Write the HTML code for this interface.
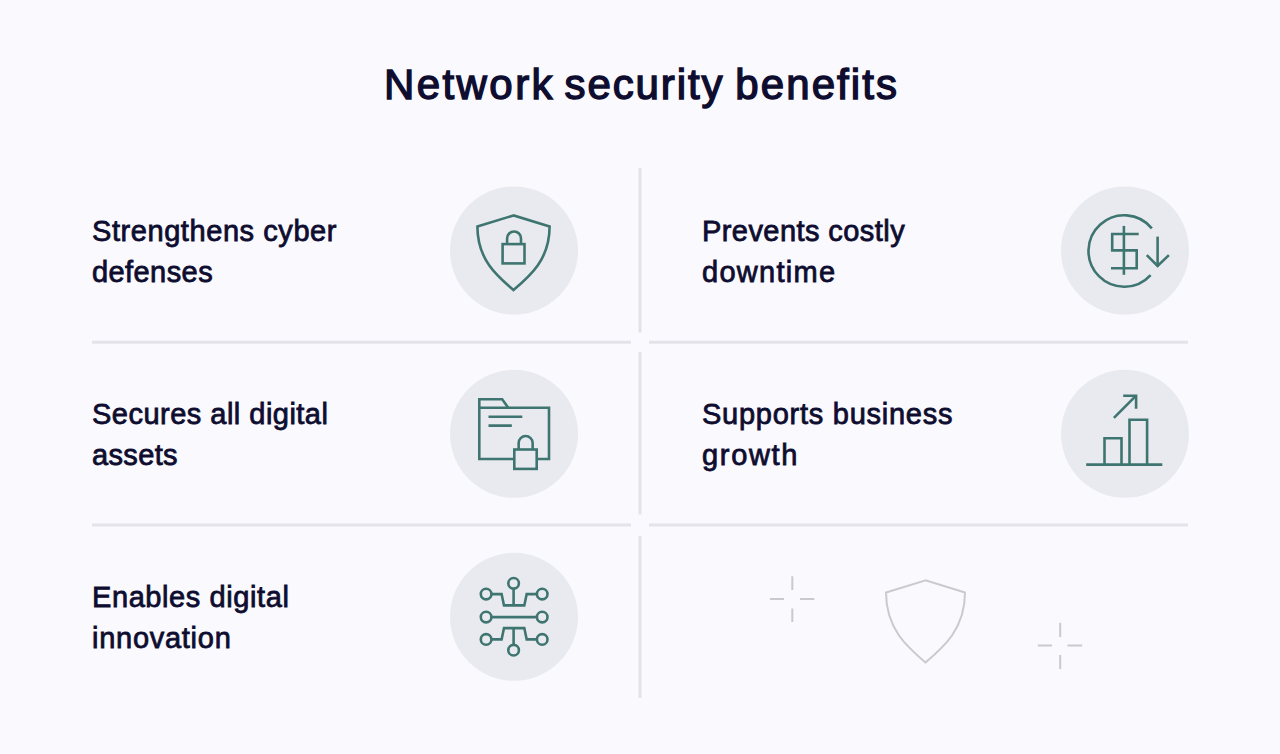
<!DOCTYPE html>
<html><head><meta charset="utf-8">
<style>
html,body{margin:0;padding:0;}
body{width:1280px;height:754px;background:#f9f9fe;position:relative;overflow:hidden;font-family:"Liberation Sans",sans-serif;color:#0e0d2f;}
.title{position:absolute;top:60.3px;font-size:42px;line-height:50px;font-weight:400;-webkit-text-stroke:1.4px #0e0d2f;letter-spacing:1.85px;white-space:nowrap;}
.t{position:absolute;font-size:29px;line-height:41px;font-weight:400;-webkit-text-stroke:0.8px #0e0d2f;letter-spacing:0.65px;white-space:nowrap;}
svg{position:absolute;left:0;top:0;}
</style></head><body>
<svg width="1280" height="754" viewBox="0 0 1280 754">
 <g stroke="#e3e3e9" stroke-width="3" fill="none">
  <line x1="640" y1="168" x2="640" y2="332.5"/>
  <line x1="640" y1="352" x2="640" y2="514.5"/>
  <line x1="640" y1="536" x2="640" y2="698"/>
  <line x1="92" y1="342.3" x2="631" y2="342.3"/>
  <line x1="649" y1="342.3" x2="1188" y2="342.3"/>
  <line x1="92" y1="525" x2="631" y2="525"/>
  <line x1="649" y1="525" x2="1188" y2="525"/>
 </g>
 <g fill="#e9eaef">
  <circle cx="514" cy="250.5" r="64"/>
  <circle cx="1125" cy="250.5" r="64"/>
  <circle cx="514" cy="433.8" r="64"/>
  <circle cx="1125" cy="433.8" r="64"/>
  <circle cx="514" cy="616.8" r="64"/>
 </g>
 <g stroke="#3f7571" stroke-width="2.6" fill="none" stroke-linejoin="miter">
  <!-- shield lock -->
  <path d="M513.6 215.4 L477.4 226.5 C477.4 259.4 496.7 275.9 513.5 290.1 C530.3 275.9 549.6 259.4 549.6 226.5 Z"/>
  <rect x="502.6" y="244.1" width="21.9" height="19.3"/>
  <path d="M507.1 244.1 V238.4 A6.95 6.95 0 0 1 521 238.4 V244.1"/>
  <!-- dollar arrow -->
  <path d="M1151.83 228.39 A35.7 35.7 0 1 0 1150.60 275.03"/>
  <path d="M1123.9 225.9 V274.8"/>
  <path d="M1138.7 234 H1112.2 V250.4 H1136.7 V268.3 H1111"/>
  <path d="M1157.6 236.6 V266.5"/>
  <path d="M1146.8 255.1 L1157.6 266 L1168.9 255.1"/>
  <!-- folder lock -->
  <path d="M479.3 407.7 V399.3 H502.2 L508.2 407.7"/>
  <path d="M479.3 407.7 H549 V459 H479.3 Z"/>
  <path d="M488.5 416.8 H522.3 M488.5 425.6 H511.8"/>
  <rect x="514.3" y="449.5" width="22.4" height="19.4" fill="#e9eaef"/>
  <path d="M518.65 449.5 V443 A7 7 0 0 1 532.65 443 V449.5"/>
  <!-- chart -->
  <path d="M1086.2 464.6 H1162.3"/>
  <path d="M1104.5 464.6 V438.3 H1121.5 V464.6"/>
  <path d="M1129.5 464.6 V419.8 H1147.1 V464.6"/>
  <path d="M1113.9 417.9 L1136.1 395.7"/>
  <path d="M1123.2 395.7 H1136.1 V408.8"/>
  <!-- circuit -->
  <circle cx="513.6" cy="583.3" r="5.3"/>
  <circle cx="486.1" cy="594.1" r="5.3"/>
  <circle cx="542.2" cy="594.1" r="5.3"/>
  <circle cx="486.1" cy="617.1" r="5.3"/>
  <circle cx="542.2" cy="617.1" r="5.3"/>
  <circle cx="486.1" cy="639.4" r="5.3"/>
  <circle cx="542.2" cy="639.4" r="5.3"/>
  <circle cx="513.6" cy="650.2" r="5.3"/>
  <path d="M491.4 594.1 H501.6 L504 605.4 H524.3 L526.7 594.1 H536.9"/>
  <path d="M513.6 588.6 V605.4"/>
  <path d="M491.4 617.1 H536.9"/>
  <path d="M491.4 639.4 H501.6 L504 628.1 H524.3 L526.7 639.4 H536.9"/>
  <path d="M513.6 628.1 V644.9"/>
 </g>
 <g stroke="#c9c9ce" stroke-width="2" fill="none">
  <path d="M925.5 580.4 L886 592.6 C886 628.8 907.1 646.9 925.5 662.6 C943.9 646.9 965 628.8 965 592.6 Z"/>
  <path d="M792.3 576.2 V590 M792.3 608.5 V621.9 M769.9 598.9 H784 M800.1 598.9 H814.3"/>
  <path d="M1060.2 622.8 V637 M1060.2 655.1 V668.9 M1037.8 645.6 H1052 M1067.5 645.6 H1082.2"/>
 </g>
</svg>
<div class="title" style="left:384px;letter-spacing:2.42px">Network</div>
<div class="title" style="left:564.5px;letter-spacing:1.91px">security</div>
<div class="title" style="left:735.3px;letter-spacing:2.09px">benefits</div>
<div class="t" style="left:92px;top:211.3px;letter-spacing:0.57px">Strengthens cyber</div>
<div class="t" style="left:92px;top:252.3px;letter-spacing:0.42px">defenses</div>
<div class="t" style="left:702px;top:211.3px;letter-spacing:0.43px">Prevents costly</div>
<div class="t" style="left:702px;top:252.3px;letter-spacing:1.28px">downtime</div>
<div class="t" style="left:92px;top:394.3px;letter-spacing:0.48px">Secures all digital</div>
<div class="t" style="left:92px;top:435.3px;letter-spacing:0.35px">assets</div>
<div class="t" style="left:702px;top:394.3px;letter-spacing:0.74px">Supports business</div>
<div class="t" style="left:702px;top:435.3px;letter-spacing:1.67px">growth</div>
<div class="t" style="left:92px;top:577.3px;letter-spacing:0.59px">Enables digital</div>
<div class="t" style="left:92px;top:618.3px;letter-spacing:0.73px">innovation</div>
</body></html>
